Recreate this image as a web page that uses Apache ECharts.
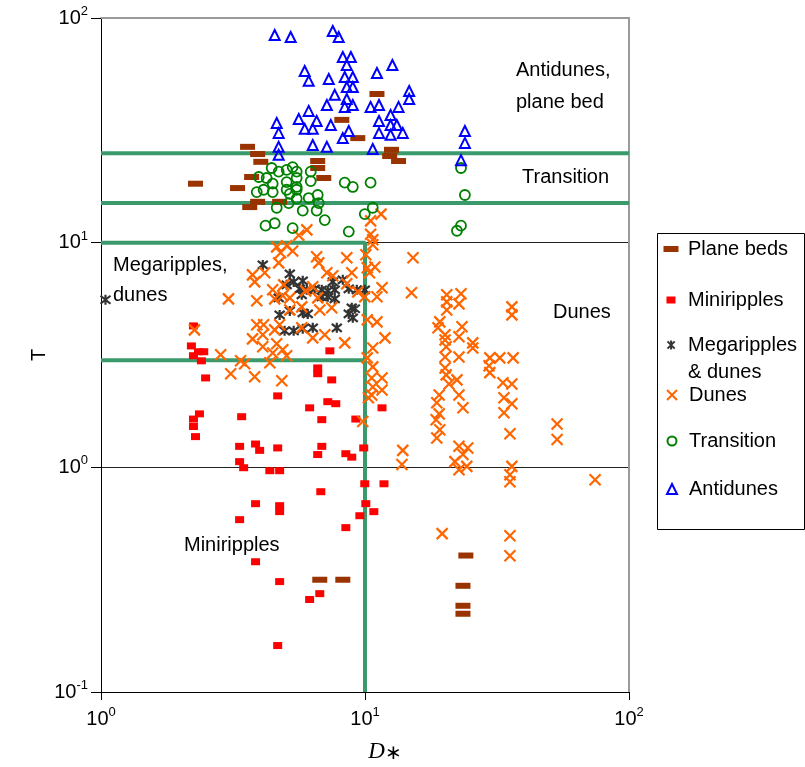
<!DOCTYPE html>
<html><head><meta charset="utf-8">
<script src="https://cdn.jsdelivr.net/npm/echarts@6/dist/echarts.min.js"></script>
<style>html,body{margin:0;padding:0;background:#fff}#c{width:805px;height:767px}</style>
</head><body><div id="c"></div>
<script>
// ---- data: [D*, T] ----
const planeBeds = [[11.1,45.9],[8.17,35.2],[9.39,29.2],[3.59,26.7],[3.92,24.8],[12.6,25.9],[12.4,24.3],[13.4,23.1],[4.03,22.9],[3.72,19.6],[2.28,18.3],[3.29,17.5],[3.66,14.4],[3.92,15.2],[4.75,15.2],[6.62,23.1],[6.62,21.5],[6.98,19.4],[6.74,0.316],[8.24,0.316],[24.1,0.405],[23.5,0.297],[23.5,0.242],[23.5,0.223]];
const miniripples = [[2.24,4.26],[2.20,3.47],[2.24,3.14],[2.34,3.27],[2.45,3.27],[2.40,2.98],[2.49,2.50],[7.36,3.30],[6.62,2.77],[6.62,2.61],[7.48,2.45],[4.67,2.08],[6.17,1.84],[7.23,1.96],[7.75,1.92],[11.6,1.84],[2.36,1.73],[2.24,1.64],[2.24,1.52],[2.28,1.37],[3.41,1.68],[6.86,1.63],[9.23,1.64],[3.35,1.24],[3.85,1.27],[3.99,1.19],[4.67,1.22],[6.86,1.24],[6.62,1.14],[8.46,1.15],[8.91,1.11],[9.89,1.22],[3.35,1.06],[3.47,0.996],[4.36,0.966],[4.75,0.966],[9.98,0.845],[11.8,0.845],[6.80,0.779],[3.85,0.689],[4.75,0.675],[4.75,0.635],[10.07,0.689],[10.8,0.635],[9.56,0.609],[3.35,0.585],[8.46,0.539],[3.85,0.380],[4.75,0.310],[6.74,0.274],[6.17,0.258],[4.67,0.161]];
const megaripples = [[1.04,5.57],[4.10,7.96],[5.19,7.27],[5.81,6.76],[5.37,6.69],[5.05,6.49],[5.66,6.23],[6.02,6.17],[6.45,6.23],[6.86,6.17],[7.23,6.10],[7.68,6.17],[7.55,6.69],[8.24,6.83],[8.68,6.23],[9.31,6.17],[9.98,6.17],[4.71,5.68],[5.76,5.86],[6.86,5.74],[7.23,5.74],[7.68,5.62],[8.91,5.13],[9.15,5.08],[8.68,4.82],[8.99,4.63],[4.75,4.77],[5.19,4.97],[5.81,4.87],[6.07,4.82],[4.96,4.05],[5.37,4.05],[5.81,4.14],[6.34,4.18],[7.82,4.18]];
const dunes = [[4.63,9.58],[5.05,9.68],[5.32,9.19],[4.79,9.01],[4.71,8.13],[3.75,7.19],[3.82,6.69],[4.17,7.34],[4.47,6.17],[4.55,5.62],[4.88,5.80],[4.92,6.49],[5.19,5.68],[3.89,5.51],[3.04,5.62],[6.56,8.65],[6.68,8.13],[8.53,8.56],[7.17,7.34],[7.55,7.12],[8.91,7.34],[5.96,6.10],[6.34,6.36],[6.62,5.68],[8.53,6.56],[9.39,6.04],[6.74,5.02],[7.48,5.13],[5.19,5.02],[5.76,5.18],[2.26,4.09],[3.89,4.31],[4.13,4.31],[4.75,4.31],[4.55,4.09],[5.76,4.18],[6.34,3.77],[7.04,3.89],[8.38,3.58],[3.75,3.73],[4.10,3.89],[4.10,3.44],[4.63,3.55],[4.88,3.34],[4.47,3.23],[5.05,3.14],[4.36,2.92],[2.84,3.17],[3.38,2.98],[3.50,2.89],[3.10,2.61],[3.82,2.53],[4.84,2.43],[9.81,1.60],[6.02,11.4],[5.61,10.8],[11.5,13.4],[10.5,12.5],[10.5,10.9],[10.7,10.3],[10.7,9.78],[10.07,8.83],[10.9,7.80],[10.2,7.73],[10.4,7.34],[11.6,6.30],[9.98,5.74],[11.1,5.74],[10.2,4.54],[11.1,4.44],[11.9,3.77],[10.7,3.40],[10.2,3.07],[10.7,2.80],[10.6,2.50],[11.6,2.50],[10.7,2.28],[11.6,2.21],[10.6,2.10],[10.3,2.04],[15.2,8.56],[15.0,5.98],[13.9,1.19],[13.8,1.03],[20.4,5.86],[20.4,5.45],[20.4,5.02],[23.1,5.92],[22.7,5.34],[19.2,4.44],[18.9,4.18],[20.1,3.89],[20.1,3.69],[20.3,3.44],[20.1,3.10],[23.3,4.22],[22.7,3.81],[22.7,3.10],[25.6,3.58],[25.6,3.40],[20.1,2.77],[20.3,2.58],[20.8,2.35],[22.3,2.45],[22.7,2.10],[23.5,1.84],[19.1,2.10],[18.7,1.94],[19.1,1.73],[18.6,1.63],[19.2,1.47],[18.7,1.35],[22.7,1.24],[24.5,1.22],[23.5,1.14],[21.9,1.06],[24.3,1.01],[22.7,0.976],[29.7,3.07],[32.4,3.07],[36.4,3.07],[29.5,2.83],[29.7,2.64],[33.3,2.38],[36.0,2.35],[33.6,2.04],[36.0,1.92],[33.6,1.75],[35.4,1.41],[36.0,5.18],[36.0,4.77],[53.4,1.56],[53.4,1.33],[36.0,1.01],[35.4,0.927],[35.4,0.863],[74.4,0.88],[19.6,0.507],[35.4,0.496],[35.4,0.404]];
const transition = [[4.43,21.5],[4.71,20.7],[5.05,21.1],[5.32,21.7],[5.51,20.7],[5.51,19.4],[3.96,19.6],[4.24,19.4],[4.47,18.3],[5.05,18.6],[5.51,17.7],[6.23,20.7],[6.23,18.8],[4.13,17.2],[3.89,16.8],[4.47,16.8],[5.05,17.2],[5.51,17.2],[5.19,16.5],[5.51,15.7],[5.14,15.0],[6.12,15.8],[6.62,16.3],[6.68,15.0],[8.38,18.5],[8.99,17.7],[10.5,18.5],[4.63,14.3],[5.81,13.9],[6.56,13.9],[7.04,12.6],[4.20,11.9],[4.55,12.2],[5.32,11.6],[8.68,11.2],[9.98,13.4],[10.7,14.3],[23.1,21.5],[23.9,16.3],[22.3,11.3],[23.1,11.9]];
const antidunes = [[4.55,84.0],[5.23,82.3],[7.55,87.5],[7.95,82.3],[8.24,67.1],[8.84,67.1],[8.53,61.8],[5.91,58.1],[6.12,52.5],[7.29,53.5],[8.38,54.6],[8.99,54.6],[8.53,49.3],[8.99,49.3],[11.1,56.9],[12.7,61.8],[14.7,47.3],[14.7,43.6],[7.68,45.5],[7.17,41.0],[8.53,43.6],[8.38,40.2],[8.99,41.0],[10.5,40.2],[11.3,41.0],[13.4,40.2],[6.12,38.6],[5.61,35.5],[6.56,34.8],[4.63,34.1],[4.71,30.8],[5.91,32.1],[6.34,32.1],[7.42,33.4],[8.68,31.4],[8.24,29.2],[11.3,34.8],[12.5,37.0],[12.5,33.4],[13.2,33.4],[11.3,30.8],[12.5,30.2],[13.9,30.8],[6.34,27.2],[7.17,26.7],[4.71,26.7],[4.71,24.6],[10.7,26.1],[23.9,31.4],[23.9,27.8],[23.1,23.3]];
// regime boundaries
const boundaryTop = [[1,25],[100,25]];
const boundaryMid = [[1,15],[100,15]];
const boundaryMega = [[1,10],[10,10],[10,0.1]];
const boundaryLow = [[1,3],[10,3]];
const xTicks = [1,10,100];
const yTicks = [0.1,1,10,100];

const FONT = 'Liberation Sans, Arial, sans-serif';
const chart = echarts.init(document.getElementById('c'), null, {renderer:'canvas'});

function expLabel(v){
  const e = Math.round(Math.log10(v));
  return '{b|10}{s|' + e + '}';
}
const richLab = {
  b:{fontSize:20, fontFamily:FONT, color:'#000', lineHeight:26},
  s:{fontSize:13, fontFamily:FONT, color:'#000', verticalAlign:'top', lineHeight:13}
};
const GREEN = '#3a9a6c';
function bline(name, data){
  return {type:'line', name:name, data:data, symbol:'none', silent:true, z:1,
    lineStyle:{color:GREEN, width:4}, animation:false, legendHoverLink:false};
}
const X_PATH = 'path://M0,0L10,10M10,0L0,10';
const AST_PATH = 'path://M1,1L9,9M9,1L1,9M5,0L5,10';

function leg(name, cy, w, h, label){
  return {data:[name], left:671 - w/2, top:cy - 12, itemWidth:w, itemHeight:h,
    padding:0, itemGap:0, selectedMode:false, formatter:label || name,
    textStyle:{fontSize:20, fontFamily:FONT, color:'#000', lineHeight:24,
      padding:[0,0,0, 688 - (671 + w/2 + 5)]}};
}

chart.setOption({
  animation:false,
  backgroundColor:'#fff',
  grid:{left:101, top:18, width:528, height:674, containLabel:false, outerBoundsMode:'none'},
  xAxis:[{
    type:'log', logBase:10, min:1, max:100,
    name:'{d|D}{s|∗}', nameLocation:'middle', nameGap:48, nameMoveOverlap:false,
    nameTextStyle:{padding:[0,0,0,40], rich:{
      d:{fontFamily:'Liberation Serif, serif', fontStyle:'italic', fontSize:23, color:'#000', lineHeight:24},
      s:{fontFamily:'Liberation Serif, serif', fontSize:20, color:'#000', verticalAlign:'bottom', lineHeight:14, padding:[14,0,0,0]}
    }},
    axisLine:{lineStyle:{color:'#000', width:1}},
    axisTick:{show:true, length:8, lineStyle:{color:'#000'}},
    minorTick:{show:false},
    axisLabel:{formatter:expLabel, rich:richLab, margin:14},
    splitLine:{show:false}
  },{
    type:'log', logBase:10, min:1, max:100, position:'top',
    axisLine:{lineStyle:{color:'#9a9a9a', width:2}},
    axisTick:{show:false}, axisLabel:{show:false}, splitLine:{show:false}
  }],
  yAxis:[{
    type:'log', logBase:10, min:0.1, max:100,
    name:'T', nameLocation:'middle', nameGap:52, nameRotate:90, nameMoveOverlap:false,
    nameTextStyle:{fontSize:20, fontFamily:FONT, color:'#000'},
    axisLine:{lineStyle:{color:'#000', width:1}},
    axisTick:{show:true, length:10, lineStyle:{color:'#000'}},
    minorTick:{show:false},
    axisLabel:{formatter:expLabel, rich:richLab, margin:13},
    splitLine:{show:true, showMinLine:false, showMaxLine:false, lineStyle:{color:'#222', width:1}}
  },{
    type:'log', logBase:10, min:0.1, max:100, position:'right',
    axisLine:{show:true, lineStyle:{color:'#9a9a9a', width:2}},
    axisTick:{show:false}, axisLabel:{show:false}, splitLine:{show:false}
  }],
  legend:[
    leg('Plane beds', 249, 15, 6),
    leg('Miniripples', 300, 9, 7),
    leg('Megaripples & dunes', 345, 9, 9, 'Megaripples'),
    leg('Dunes', 395, 10, 10),
    leg('Transition', 441, 9, 9),
    leg('Antidunes', 489, 10, 10)
  ],
  graphic:[
    {type:'rect', shape:{x:657.5, y:233.5, width:147, height:296}, style:{fill:'none', stroke:'#000', lineWidth:1}, z:-1},
    {type:'text', x:688, y:372, style:{text:'& dunes', font:'20px ' + FONT, fill:'#000', verticalAlign:'middle'}},
    {type:'text', x:516, y:70, style:{text:'Antidunes,', font:'20px ' + FONT, fill:'#000', verticalAlign:'middle'}},
    {type:'text', x:516, y:102, style:{text:'plane bed', font:'20px ' + FONT, fill:'#000', verticalAlign:'middle'}},
    {type:'text', x:522, y:177, style:{text:'Transition', font:'20px ' + FONT, fill:'#000', verticalAlign:'middle'}},
    {type:'text', x:113, y:265, style:{text:'Megaripples,', font:'20px ' + FONT, fill:'#000', verticalAlign:'middle'}},
    {type:'text', x:113, y:295, style:{text:'dunes', font:'20px ' + FONT, fill:'#000', verticalAlign:'middle'}},
    {type:'text', x:553, y:312, style:{text:'Dunes', font:'20px ' + FONT, fill:'#000', verticalAlign:'middle'}},
    {type:'text', x:184, y:545, style:{text:'Miniripples', font:'20px ' + FONT, fill:'#000', verticalAlign:'middle'}}
  ],
  series:[
    bline('b1', boundaryTop), bline('b2', boundaryMid), bline('b3', boundaryMega), bline('b4', boundaryLow),
    {type:'scatter', name:'Plane beds', data:planeBeds, symbol:'rect', symbolSize:[15,6],
      itemStyle:{color:'#993300', opacity:1}, z:3},
    {type:'scatter', name:'Miniripples', data:miniripples, symbol:'rect', symbolSize:[9,7],
      itemStyle:{color:'#ff0000', opacity:1}, z:3},
    {type:'scatter', name:'Megaripples & dunes', data:megaripples, symbol:AST_PATH, symbolSize:10,
      itemStyle:{color:'rgba(0,0,0,0)', borderColor:'#333333', borderWidth:2.2, opacity:1}, z:3},
    {type:'scatter', name:'Dunes', data:dunes, symbol:X_PATH, symbolSize:11,
      itemStyle:{color:'rgba(0,0,0,0)', borderColor:'#ff6600', borderWidth:2.2, opacity:1}, z:3},
    {type:'scatter', name:'Transition', data:transition, symbol:'circle', symbolSize:10,
      itemStyle:{color:'rgba(0,0,0,0)', borderColor:'#008000', borderWidth:1.8, opacity:1}, z:3},
    {type:'scatter', name:'Antidunes', data:antidunes, symbol:'triangle', symbolSize:10,
      itemStyle:{color:'rgba(0,0,0,0)', borderColor:'#0000ff', borderWidth:2, opacity:1}, z:3}
  ]
});
</script>
</body></html>
